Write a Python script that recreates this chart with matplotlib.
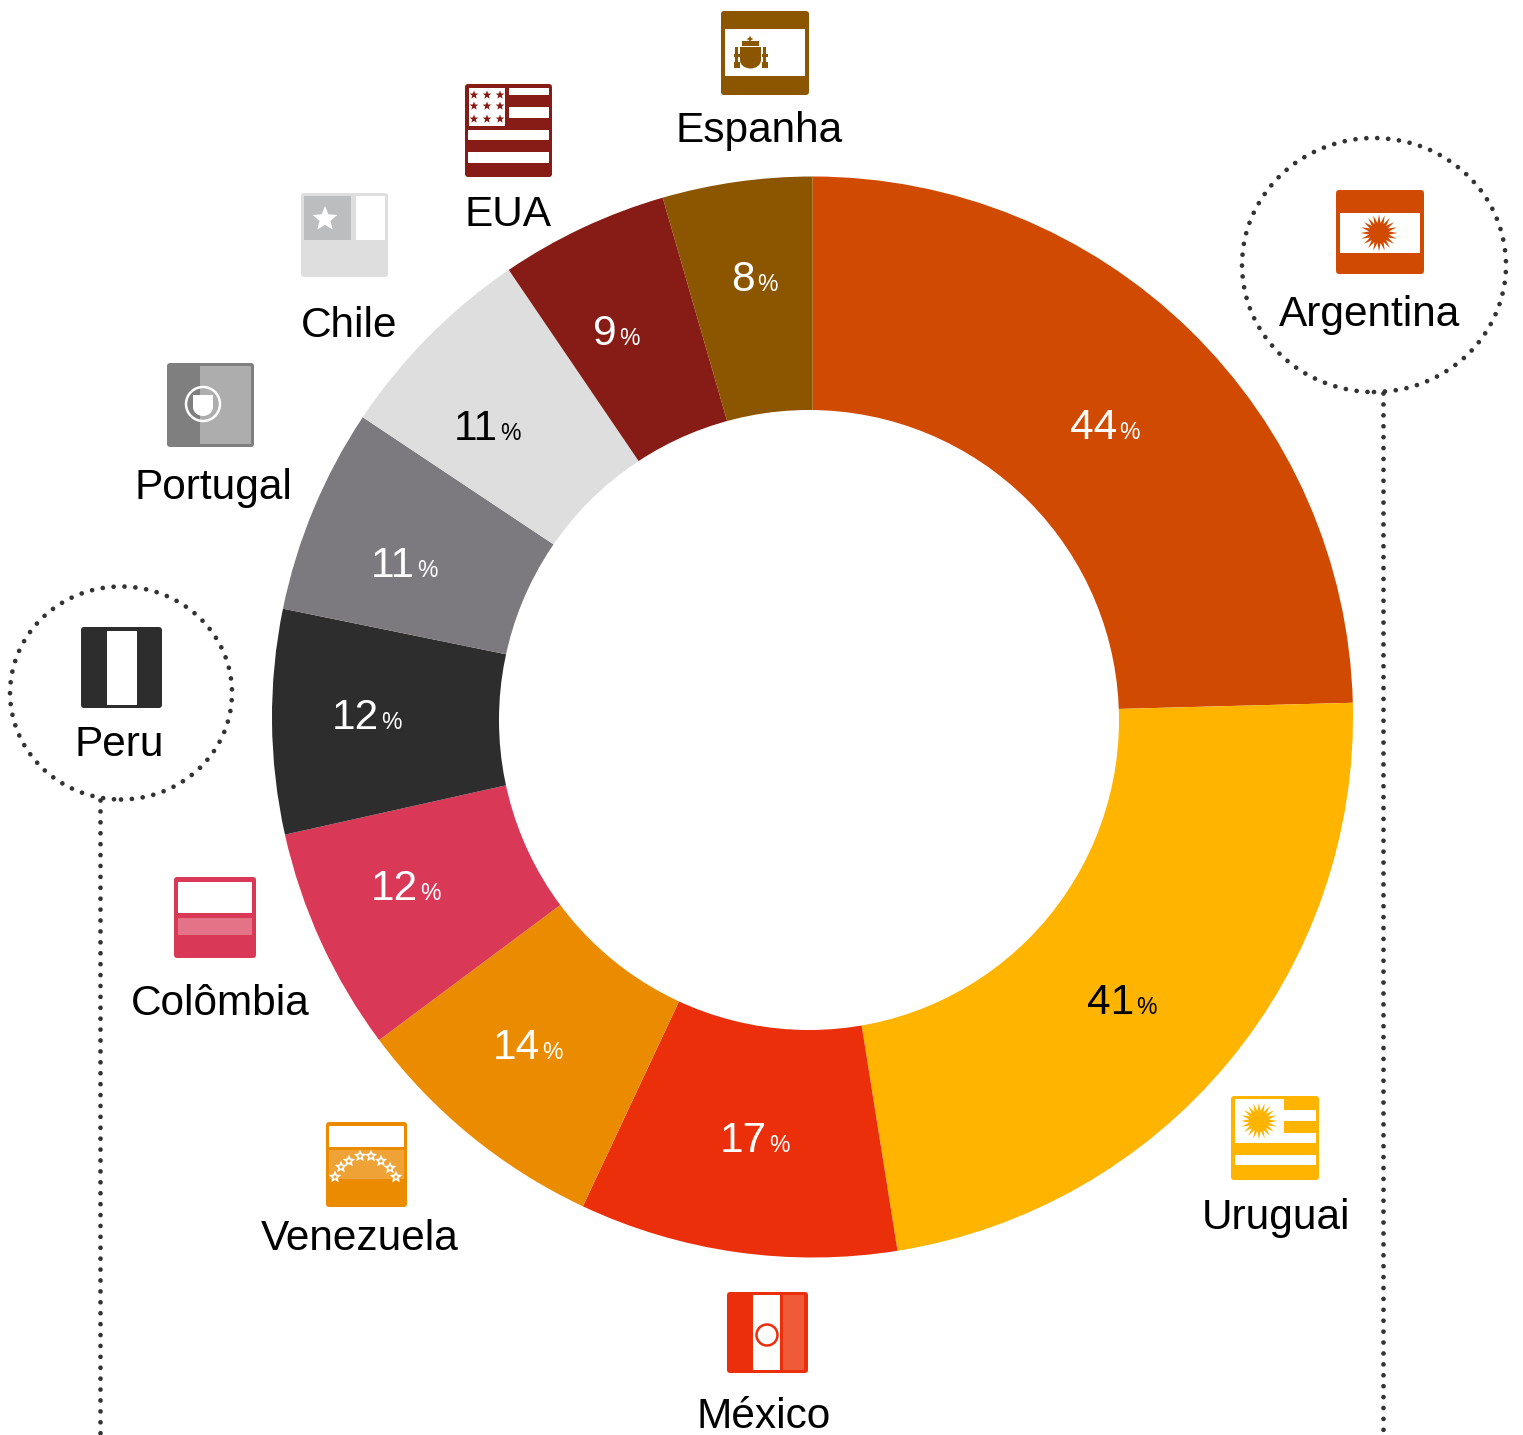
import numpy as np
import matplotlib
matplotlib.use("Agg")
import matplotlib.pyplot as plt
from matplotlib.patches import Rectangle, FancyBboxPatch, Ellipse, Polygon, Circle

plt.rcParams["font.family"] = ["Liberation Sans", "DejaVu Sans"]

# ── Data ──────────────────────────────────────────────────────────────────────
countries = ["Argentina", "Uruguai", "México", "Venezuela", "Colômbia",
             "Peru", "Portugal", "Chile", "EUA", "Espanha"]
values = [44, 41, 17, 14, 12, 12, 11, 11, 9, 8]
colors = ["#D04A02", "#FFB400", "#EB2F0B", "#EB8C00", "#DA3857",
          "#2E2D2D", "#7D7A7F", "#DEDEDE", "#871B15", "#8C5500"]
value_colors = ["white", "black", "white", "white", "white",
                "white", "white", "black", "white", "white"]

# ── Layout in reference pixels (y counted from the top) ───────────────────────
W, H = 1523, 1435
CX, CY, R_OUT = 812.5, 717, 540.5
HOLE_X, HOLE_Y, R_HOLE = 809, 720, 310     # the hole sits a little off centre
value_xy = [(1117, 439), (1134, 1014), (767, 1152), (540, 1059), (418, 900),
            (379, 729), (415, 577), (498, 440), (617, 345), (755, 291)]
name_xy = [(1370, 326), (1276, 1229), (764, 1428), (360, 1250), (220, 1015),
           (119, 756), (213, 499), (349, 337), (508, 226), (759, 142)]

fig = plt.figure(figsize=(W / 100, H / 100), dpi=100)
ax = fig.add_axes([0, 0, 1, 1])


def Y(y):
    return H - y


def rect(x0, y0, x1, y1, color, z=3):
    ax.add_patch(Rectangle((x0, Y(y1)), x1 - x0, y1 - y0, fc=color, ec="none", zorder=z))


def flag(x0, y0, x1, y1, color):
    ax.add_patch(FancyBboxPatch((x0 + 3, Y(y1) + 3), x1 - x0 - 6, y1 - y0 - 6,
                                boxstyle="round,pad=3,rounding_size=3",
                                fc=color, ec="none", zorder=2))


def star(x, y, r_out, r_in, n, color, z=4):
    ang = np.pi / 2 + np.arange(2 * n) * np.pi / n
    rad = np.where(np.arange(2 * n) % 2 == 0, r_out, r_in)
    pts = np.column_stack([x + rad * np.cos(ang), Y(y) + rad * np.sin(ang)])
    ax.add_patch(Polygon(pts, closed=True, fc=color, ec="none", zorder=z))


def dotted_ring(x, y, w, h):
    ax.add_patch(Ellipse((x, Y(y)), w, h, fc="none", ec="#333333", lw=3.4,
                         ls=(0, (0.01, 2.3)), capstyle="round", zorder=5))


def dotted_drop(x, y0, y1):
    ax.plot([x, x], [Y(y0), Y(y1)], color="#333333", lw=3.4,
            ls=(0, (0.01, 2.3)), dash_capstyle="round", zorder=5)


# ── Donut ─────────────────────────────────────────────────────────────────────
ax.pie(values, colors=colors, startangle=90, counterclock=False,
       center=(CX, Y(CY)), radius=R_OUT, wedgeprops=dict(linewidth=0))
ax.add_patch(Circle((HOLE_X, Y(HOLE_Y)), R_HOLE, fc="white", ec="none", zorder=2))
ax.set_xlim(0, W)
ax.set_ylim(0, H)
ax.set_aspect("auto")
ax.axis("off")

for v, c, (x, y) in zip(values, value_colors, value_xy):
    ax.text(x, Y(y), str(v), color=c, fontsize=30.5, ha="right", va="baseline", zorder=6)
    ax.text(x + 2, Y(y), "%", color=c, fontsize=16.5, ha="left", va="baseline", zorder=6)

for name, (x, y) in zip(countries, name_xy):
    ax.text(x, Y(y), name, color="black", fontsize=30.5, ha="center", va="baseline", zorder=6)

# ── Flags ─────────────────────────────────────────────────────────────────────
# Argentina
flag(1336, 190, 1424, 274, colors[0])
rect(1340, 213, 1420, 253, "white")
star(1379, 233, 18.5, 10, 20, colors[0])

# Uruguai
flag(1231, 1096, 1319, 1180, colors[1])
rect(1235, 1099, 1284, 1143, "white")
rect(1284, 1110, 1316, 1121, "white")
rect(1284, 1133, 1316, 1143, "white")
rect(1235, 1155, 1316, 1165, "white")
star(1259, 1121, 18.5, 10, 20, colors[1])

# México
flag(727, 1292, 808, 1373, colors[2])
rect(753, 1295, 780, 1370, "white")
rect(783, 1295, 804, 1370, "#EF5A38")
ax.add_patch(Ellipse((767, Y(1335)), 21, 21, fc="white", ec=colors[2], lw=1.8, zorder=4))

# Venezuela
flag(326, 1122, 407, 1207, colors[3])
rect(329, 1126, 404, 1147, "white")
rect(329, 1150, 404, 1179, "#EFA336")
for sx, sy in [(335, 1177), (341, 1167), (349, 1161), (360, 1156),
               (371, 1156), (381, 1161), (390, 1168), (396, 1177)]:
    star(sx, sy, 6.5, 3, 5, "white")
    ax.add_patch(Circle((sx, Y(sy)), 1.6, fc="#EFA336", ec="none", zorder=5))

# Colômbia
flag(174, 877, 256, 958, colors[4])
rect(178, 882, 252, 913, "white")
rect(178, 918, 252, 935, "#E57388")

# Peru
flag(81, 627, 162, 708, colors[5])
rect(107, 631, 137, 705, "white")

# Portugal
flag(167, 363, 254, 447, "#7F7F7F")
rect(200, 366, 251, 444, "#ADADAD")
ax.add_patch(Circle((203, Y(404)), 17, fc="none", ec="white", lw=1.8, zorder=4))
rect(193, 395, 213, 407, "white")
ax.add_patch(Ellipse((203, Y(407)), 20, 18, fc="white", ec="none", zorder=4))

# Chile
flag(301, 193, 388, 277, colors[7])
rect(304, 196, 351, 240, "#BCBDBF")
rect(356, 196, 385, 240, "white")
star(325, 219, 13, 5.8, 5, "white")

# EUA
flag(465, 84, 552, 177, colors[8])
rect(509, 88, 549, 95, "white")
rect(509, 107, 549, 118, "white")
rect(468, 130, 549, 140, "white")
rect(468, 152, 549, 163, "white")
rect(469, 88, 505, 126, "white")
for sx in (474, 487, 500):
    for sy in (95, 106, 119):
        star(sx, sy, 4.5, 1.9, 5, colors[8])

# Espanha
flag(721, 11, 809, 95, colors[9])
rect(725, 29, 805, 76, "white")
brown = colors[9]
star(750, 39, 3.5, 1.5, 4, brown)
rect(742, 41, 759, 46, brown, z=4)
rect(740, 47, 761, 60, brown, z=4)
ax.add_patch(Ellipse((750.5, Y(60)), 21, 17, fc=brown, ec="none", zorder=4))
for px in (737, 765):
    rect(px - 1.5, 47, px + 1.5, 68, brown, z=4)
    rect(px - 3, 62, px + 3, 68, brown, z=4)
    rect(px - 3, 54, px + 3, 57, brown, z=4)

# ── Dotted callouts ───────────────────────────────────────────────────────────
dotted_ring(1374, 265, 264, 254)
dotted_drop(1383, 393, 1430)
dotted_ring(121, 693, 222, 213)
dotted_drop(100, 800, 1433)

fig.savefig("out.png", dpi=100, facecolor="white")
